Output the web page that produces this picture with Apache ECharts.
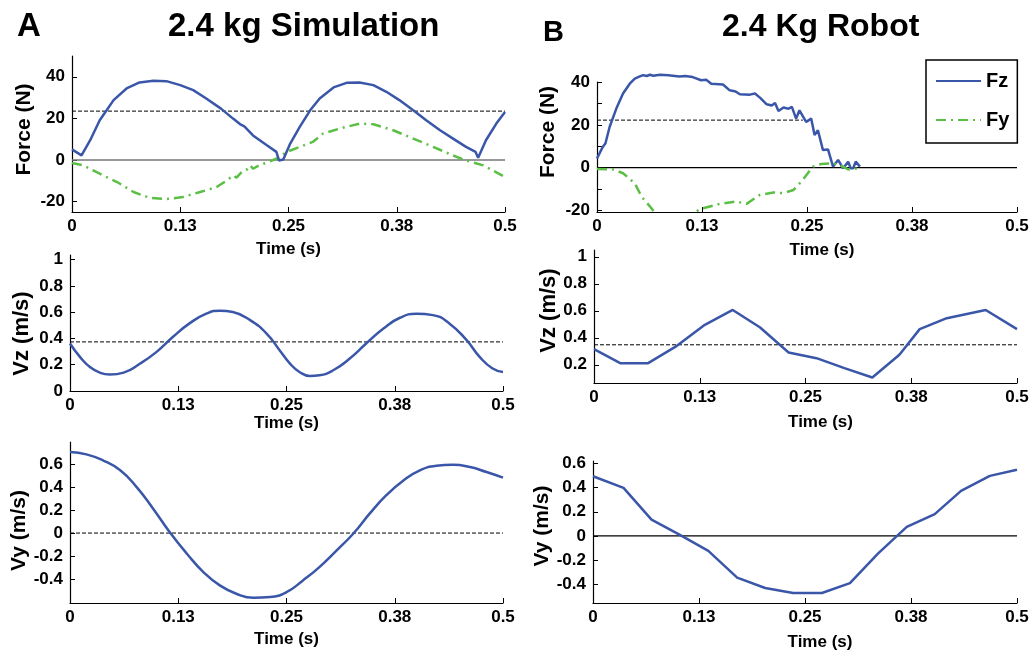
<!DOCTYPE html>
<html>
<head>
<meta charset="utf-8">
<script src="https://cdn.jsdelivr.net/npm/echarts/dist/echarts.min.js"></script>
<style>
html,body{margin:0;padding:0;background:#fff;}
#chart{width:1032px;height:654px;}
</style>
</head>
<body>
<div id="chart"></div>
<script>
// ---------- data (time in s, value) ----------
var xTickValues = [0, 0.125, 0.25, 0.375, 0.5];
var xTickLabels = ['0', '0.13', '0.25', '0.38', '0.5'];

var simFz = [[0,5.1],[0.011,2.2],[0.021,9.5],[0.032,19.1],[0.04,23.9],[0.048,28.8],[0.063,34.4],[0.078,37.3],[0.094,38.1],[0.109,37.9],[0.125,36.0],[0.14,33.6],[0.155,29.6],[0.172,24.7],[0.186,19.9],[0.195,17.0],[0.199,16.2],[0.209,11.8],[0.225,7.1],[0.236,3.9],[0.239,-0.2],[0.244,0.2],[0.252,7.9],[0.263,15.9],[0.275,23.9],[0.286,29.6],[0.302,34.9],[0.317,37.1],[0.332,37.3],[0.348,36.0],[0.363,32.8],[0.378,28.8],[0.394,23.9],[0.409,19.1],[0.425,14.3],[0.44,10.3],[0.455,6.3],[0.466,3.9],[0.469,1.1],[0.478,9.5],[0.49,17.5],[0.5,23.1]];
var simFy = [[0,-1.4],[0.013,-2.6],[0.032,-6.6],[0.052,-10.6],[0.071,-15.4],[0.09,-18.2],[0.109,-18.8],[0.128,-17.8],[0.148,-15.4],[0.167,-13.0],[0.18,-9.5],[0.186,-7.4],[0.19,-8.5],[0.196,-5.8],[0.202,-4.5],[0.206,-2.6],[0.209,-4.2],[0.215,-2.8],[0.221,-1.8],[0.236,0.6],[0.248,3.9],[0.263,6.3],[0.278,8.7],[0.29,12.7],[0.309,15.1],[0.332,17.5],[0.348,17.2],[0.371,14.3],[0.394,10.3],[0.417,6.3],[0.44,2.2],[0.455,-0.2],[0.475,-2.6],[0.5,-8.2]];
var simVz = [[0,0.362],[0.0115,0.26],[0.023,0.183],[0.035,0.138],[0.046,0.125],[0.062,0.14],[0.081,0.209],[0.1,0.298],[0.119,0.413],[0.138,0.515],[0.158,0.591],[0.173,0.612],[0.188,0.602],[0.208,0.54],[0.227,0.438],[0.242,0.311],[0.254,0.209],[0.265,0.145],[0.277,0.115],[0.288,0.12],[0.304,0.158],[0.323,0.247],[0.342,0.362],[0.362,0.476],[0.381,0.558],[0.4,0.588],[0.419,0.578],[0.438,0.515],[0.458,0.387],[0.473,0.26],[0.488,0.171],[0.5,0.145]];
var simVy = [[0,0.706],[0.019,0.686],[0.038,0.634],[0.058,0.547],[0.077,0.401],[0.096,0.212],[0.115,0.009],[0.135,-0.18],[0.154,-0.34],[0.173,-0.456],[0.192,-0.529],[0.212,-0.564],[0.231,-0.558],[0.25,-0.515],[0.269,-0.413],[0.288,-0.297],[0.308,-0.151],[0.327,-0.006],[0.346,0.169],[0.365,0.328],[0.385,0.459],[0.404,0.547],[0.423,0.587],[0.442,0.596],[0.462,0.576],[0.481,0.532],[0.5,0.483]];

var robotFz = [[0,4.3],[0.007,9.8],[0.010,11.3],[0.015,19],[0.023,27.6],[0.031,34.6],[0.039,39.2],[0.045,41.6],[0.051,42.6],[0.055,43.2],[0.059,42.8],[0.063,43.4],[0.067,42.9],[0.075,43.4],[0.085,43.1],[0.098,42.6],[0.105,42.8],[0.114,42.3],[0.124,40.8],[0.13,41.0],[0.136,39.2],[0.150,38.8],[0.158,36.1],[0.165,35.6],[0.170,34.3],[0.182,34.1],[0.188,34.6],[0.194,32.7],[0.202,29.6],[0.208,29.0],[0.212,30.2],[0.216,26.5],[0.222,28.1],[0.228,27.5],[0.232,28.4],[0.237,22.9],[0.241,26.8],[0.249,21.4],[0.255,22.9],[0.259,15.2],[0.263,17.5],[0.269,8.2],[0.275,8.5],[0.281,0.5],[0.287,3.6],[0.293,-0.3],[0.299,2.8],[0.302,-0.3],[0.305,-0.3],[0.308,2.8],[0.313,0.5]];
var robotFy = [[0,-0.6],[0.019,-0.8],[0.031,-2.6],[0.045,-7.3],[0.053,-13.5],[0.063,-18.1],[0.072,-22.5],[0.09,-25],[0.108,-23.5],[0.122,-19.4],[0.146,-16.9],[0.166,-15.8],[0.178,-16.9],[0.194,-12.7],[0.210,-11.6],[0.222,-11.9],[0.234,-10.4],[0.245,-5.7],[0.257,0.5],[0.267,1.7],[0.281,2.0],[0.289,1.2],[0.299,-0.8],[0.313,-0.3]];
var robotVz = [[0,0.316],[0.031,0.212],[0.064,0.212],[0.098,0.34],[0.131,0.496],[0.164,0.606],[0.196,0.478],[0.230,0.291],[0.263,0.249],[0.296,0.175],[0.329,0.106],[0.361,0.274],[0.385,0.464],[0.417,0.545],[0.463,0.606],[0.5,0.464]];
var robotVy = [[0,0.494],[0.036,0.398],[0.069,0.135],[0.103,0.006],[0.136,-0.124],[0.17,-0.345],[0.203,-0.431],[0.236,-0.472],[0.27,-0.472],[0.303,-0.39],[0.336,-0.146],[0.37,0.075],[0.403,0.18],[0.434,0.373],[0.468,0.497],[0.5,0.547]];

// reference lines
var refSimFzZero = [[0,0],[0.5,0]];
var refSimFzWeight = [[0,23.5],[0.5,23.5]];
var refSimVzMean = [[0,0.374],[0.5,0.374]];
var refSimVyZero = [[0,0],[0.5,0]];
var refRobFzZero = [[0,0],[0.5,0]];
var refRobFzWeight = [[0,22.2],[0.245,22.2]];
var refRobVzMean = [[0,0.348],[0.5,0.348]];
var refRobVyZero = [[0,0],[0.5,0]];

var blue = '#3a56a8';
var green = '#5cbf45';
var FONT = "'Liberation Sans', Arial, Helvetica, sans-serif";
var boldTxt = {color:'#000', fontFamily:FONT, fontWeight:'bold'};

function txt(size, extra){ var o = Object.assign({}, boldTxt, {fontSize:size}); return Object.assign(o, extra||{}); }

function xAx(gi, nameGap, namePad){
  return {
    type:'value', gridIndex:gi, min:0, max:0.5,
    axisLine:{show:true, onZero:false, lineStyle:{color:'#000', width:1.2}},
    axisTick:{show:true, inside:true, length:5, customValues:xTickValues, lineStyle:{color:'#000', width:1}},
    axisLabel:{customValues:xTickValues, margin:6, fontSize:17, color:'#000', fontWeight:'bold', fontFamily:FONT,
      formatter:function(v){ for(var i=0;i<xTickValues.length;i++){ if(Math.abs(xTickValues[i]-v)<1e-6) return xTickLabels[i]; } return ''; }},
    splitLine:{show:false},
    name:'Time (s)', nameLocation:'middle', nameGap:nameGap,
    nameTextStyle:txt(17, {padding: namePad || 0})
  };
}
function yAx(gi, min, max, labels, ticks, name, nameGap, namePad, nameSize){
  return {
    type:'value', gridIndex:gi, min:min, max:max,
    axisLine:{show:true, lineStyle:{color:'#000', width:1.2}},
    axisTick:{show:true, inside:true, length:5, customValues:ticks, lineStyle:{color:'#000', width:1}},
    axisLabel:{customValues:labels, margin:7, fontSize:17, color:'#000', fontWeight:'bold', fontFamily:FONT},
    splitLine:{show:false},
    name:name, nameLocation:'middle', nameGap:nameGap, nameRotate:90,
    nameTextStyle:txt(nameSize||21, {padding: namePad || 0})
  };
}
function dataSeries(name, gi, data, color, dash, smooth, clip){
  return {type:'line', name:name, xAxisIndex:gi, yAxisIndex:gi, data:data, symbol:'none', smooth:smooth||false,
    clip: clip===undefined ? true : clip,
    lineStyle:{color:color, width:2.5, type:dash||'solid'}, itemStyle:{color:color}, silent:true, z:3};
}
function refSeries(gi, data, color, dashed, width){
  return {type:'line', xAxisIndex:gi, yAxisIndex:gi, data:data, symbol:'none', silent:true, z:2,
    lineStyle:{color:color, width:width||1, type: dashed ? [4,2] : 'solid'}};
}

var dashDot = [10,5,2,5];

var option = {
  backgroundColor:'#fff',
  animation:false,
  title:[
    {text:'A', left:12, top:5, padding:5, textStyle:txt(33)},
    {text:'2.4 kg Simulation', left:163, top:5, textStyle:txt(33)},
    {text:'B', left:538, top:13, textStyle:txt(29)},
    {text:'2.4 Kg Robot', left:717, top:6, textStyle:txt(32)}
  ],
  legend:{
    data:['Fz','Fy'], orient:'vertical', left:926, top:60,
    itemWidth:45, itemHeight:14, itemGap:19, padding:[11,8,13,9],
    borderColor:'#000', borderWidth:1.5, backgroundColor:'#fff',
    itemStyle:{opacity:0, borderWidth:0},
    textStyle:txt(20), selectedMode:false
  },
  grid:[
    {left:72, width:433, top:56, height:156},
    {left:70, width:433, top:255, height:136},
    {left:70, width:433, top:442, height:161},
    {left:597, width:420, top:82, height:130},
    {left:594, width:423, top:250, height:133},
    {left:593, width:424, top:461, height:142}
  ],
  xAxis:[
    xAx(0, 29), xAx(1, 22), xAx(2, 28),
    xAx(3, 30, [0,0,0,30]), xAx(4, 31, [0,0,0,30]), xAx(5, 31, [0,0,0,30])
  ],
  yAxis:[
    yAx(0, -25, 50, [-20,0,20,40], [-20,0,20,40], 'Force (N)', 37, [0,0,0,9]),
    yAx(1, 0, 1.036, [0,0.2,0.4,0.6,0.8,1], [0,0.2,0.4,0.6,0.8,1], 'Vz (m/s)', 37, [0,21,0,0], 22),
    yAx(2, -0.61, 0.794, [-0.4,-0.2,0,0.2,0.4,0.6], [-0.4,-0.2,0,0.2,0.4,0.6], 'Vy (m/s)', 39, [0,16,0,0]),
    yAx(3, -20.7, 40, [-20,0,20,40], [-20,-10,0,10,20,30,40], 'Force (N)', 38, [0,0,0,30]),
    yAx(4, 0.065, 1.05, [0.2,0.4,0.6,0.8,1], [0.2,0.4,0.6,0.8,1], 'Vz (m/s)', 33, [0,0,0,12], 22),
    yAx(5, -0.555, 0.62, [-0.4,-0.2,0,0.2,0.4,0.6], [-0.4,-0.2,0,0.2,0.4,0.6], 'Vy (m/s)', 34, [0,0,0,12])
  ],
  series:[
    refSeries(0, refSimFzZero, '#777', false, 1.5),
    refSeries(0, refSimFzWeight, '#000', true, 1),
    dataSeries('Fy', 0, simFy, green, dashDot),
    dataSeries('Fz', 0, simFz, blue),
    refSeries(1, refSimVzMean, '#000', true, 1),
    dataSeries('Vz', 1, simVz, blue, 'solid', true),
    refSeries(2, refSimVyZero, '#000', true, 1),
    dataSeries('Vy', 2, simVy, blue, 'solid', true),
    refSeries(3, refRobFzZero, '#000', false, 1.2),
    refSeries(3, refRobFzWeight, '#000', true, 1),
    dataSeries('Fz', 3, robotFz, blue, 'solid', false, false),
    dataSeries('Fy', 3, robotFy, green, dashDot, false, true),
    refSeries(4, refRobVzMean, '#000', true, 1),
    dataSeries('Vz', 4, robotVz, blue),
    refSeries(5, refRobVyZero, '#000', false, 1.2),
    dataSeries('Vy', 5, robotVy, blue)
  ]
};

var chart = echarts.init(document.getElementById('chart'), null, {renderer:'canvas'});
chart.setOption(option);
</script>
</body>
</html>
